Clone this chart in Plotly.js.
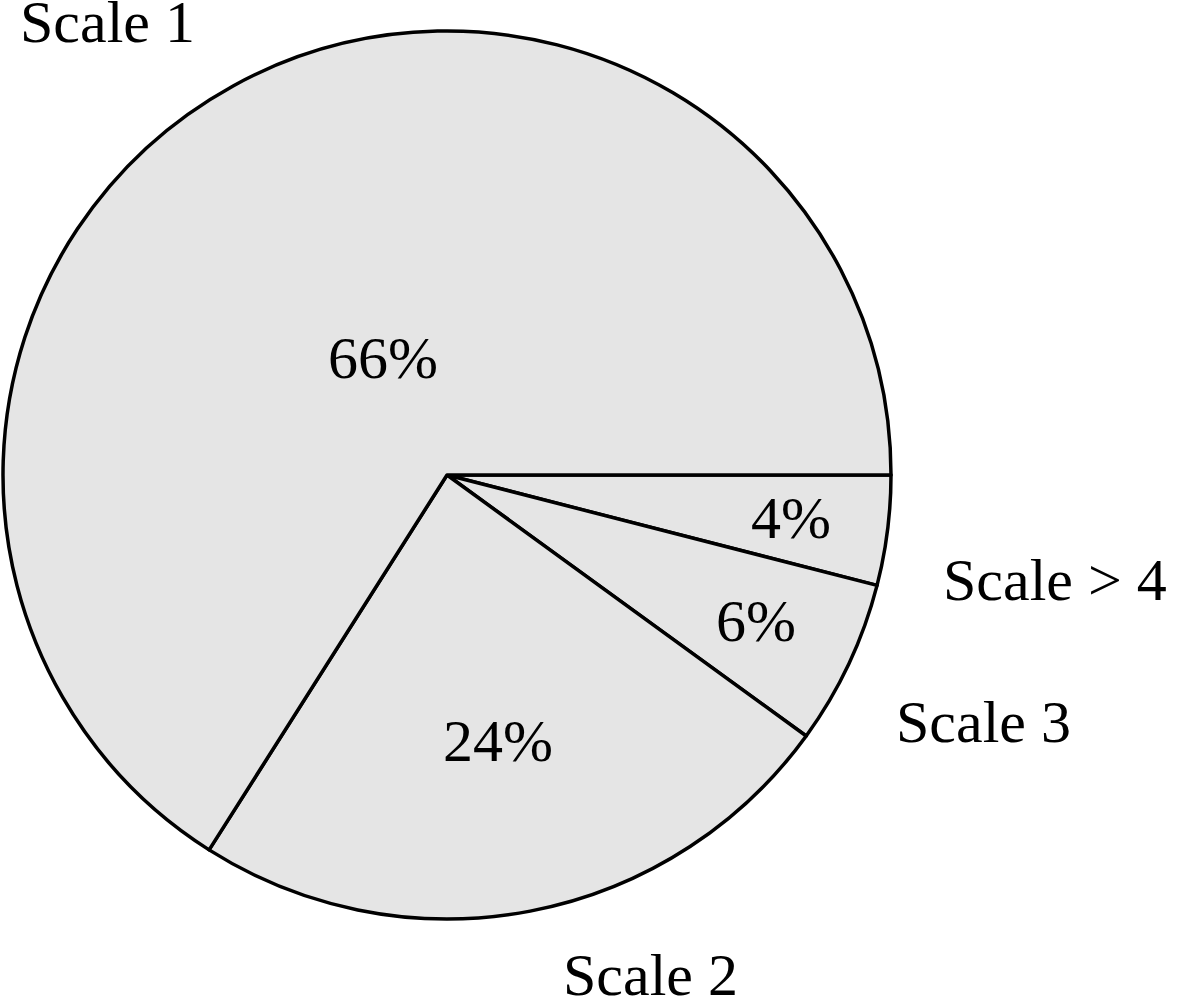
<!DOCTYPE html>
<html>
<head>
<meta charset="utf-8">
<script src="https://cdn.plot.ly/plotly-3.0.1.min.js"></script>
<style>
  html, body { margin: 0; padding: 0; background: #fff; }
  #chart { width: 1179px; height: 1000px; }
</style>
</head>
<body>
<div id="chart"></div>
<script>
// slices, clockwise from 3 o'clock
const labels = ["Scale > 4", "Scale 3", "Scale 2", "Scale 1"];
const shares = [4, 6, 24, 66];

const W = 1179, H = 1000;
const cx = 447, cy = 475, r = 444;
const FONT = "Liberation Serif, Times New Roman, serif";

// how far out along the slice's middle the percentage sits (fraction of radius)
const pctRadius = [0.78, 0.77, 0.61, 0.3];

const pieTrace = {
  type: "pie",
  labels: labels,
  values: shares,
  sort: false,
  direction: "clockwise",
  rotation: 90,
  textinfo: "none",
  marker: {
    colors: labels.map(() => "#e5e5e5"),
    line: { color: "#000", width: 3.5 },
  },
  domain: {
    x: [(cx - r) / W, (cx + r) / W],
    y: [(H - cy - r) / H, (H - cy + r) / H],
  },
  hoverinfo: "label+percent",
  showlegend: false,
};

// percentage labels placed on each slice's mid angle
const total = shares.reduce((a, b) => a + b, 0);
let cum = 0;
const pctAnn = shares.map((v, i) => {
  const mid = ((cum + v / 2) / total) * 2 * Math.PI; // clockwise from east
  cum += v;
  const px = cx + Math.cos(mid) * r * pctRadius[i];
  const py = cy + Math.sin(mid) * r * pctRadius[i];
  return {
    text: v + "%",
    xref: "paper",
    yref: "paper",
    x: px / W,
    y: 1 - py / H,
    xanchor: "center",
    yanchor: "middle",
    showarrow: false,
    font: { family: FONT, size: 60, color: "#000" },
  };
});

// category names sit outside the pie
const namePos = {
  "Scale 1": [107, 22],
  "Scale > 4": [1055, 580],
  "Scale 3": [983, 722],
  "Scale 2": [650, 975],
};

const nameAnn = labels.map((lab) => ({
  text: lab,
  xref: "paper",
  yref: "paper",
  x: namePos[lab][0] / W,
  y: 1 - namePos[lab][1] / H,
  xanchor: "center",
  yanchor: "middle",
  showarrow: false,
  font: { family: FONT, size: 60, color: "#000" },
}));

Plotly.newPlot("chart", [pieTrace], {
  width: W,
  height: H,
  margin: { l: 0, r: 0, t: 0, b: 0 },
  paper_bgcolor: "#fff",
  annotations: pctAnn.concat(nameAnn),
}, { displayModeBar: false, staticPlot: true });
</script>
</body>
</html>
